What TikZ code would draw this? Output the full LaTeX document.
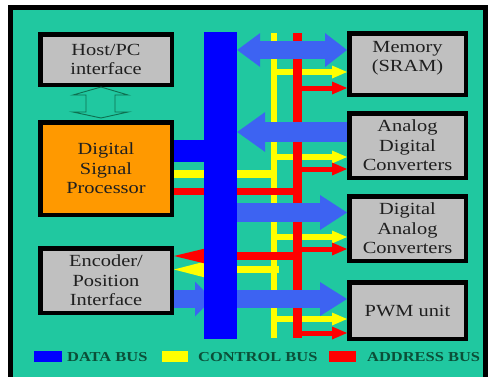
\documentclass[tikz,border=0pt]{standalone}
\usepackage{fontspec}
\setmainfont{Liberation Serif}[FakeStretch=1.2]
\usetikzlibrary{arrows.meta,calc}

\definecolor{panel}{HTML}{20C8A0}
\definecolor{boxgray}{HTML}{C0C0C0}
\definecolor{dspor}{HTML}{FF9900}
\definecolor{busblue}{HTML}{0000FF}
\definecolor{flowblue}{HTML}{3D63F2}
\definecolor{ctlyellow}{HTML}{FFFF00}
\definecolor{adrred}{HTML}{FF0000}
\definecolor{legendtxt}{HTML}{0B4F38}
\definecolor{hollow}{HTML}{0E7050}

\begin{document}
\begin{tikzpicture}[x=1pt,y=-1pt,
  unit/.style={draw=black, line width=4.5pt, fill=boxgray, inner sep=0pt,
    align=center, text=black!88, font=\fontsize{17}{19.5}\selectfont},
  leftunit/.style={unit, minimum width=131.5pt},
  rightunit/.style={unit, minimum width=116.5pt},
  ctl/.style={draw=ctlyellow, line width=6pt},
  adr/.style={draw=adrred, line width=5pt},
  tipsmall/.style={-{Triangle[length=15pt,width=13pt,line width=0pt]}},
  tiplong/.style={-{Triangle[length=31pt,width=15pt,line width=0pt]}},
  flow/.style={draw=flowblue, line width=18pt},
  keybox/.style={inner sep=0pt, minimum width=28pt, minimum height=11pt},
  keytext/.style={anchor=west, inner sep=0pt, text=legendtxt,
    font=\fontsize{13.7}{16}\selectfont\bfseries}
]
\useasboundingbox (0,0) rectangle (492,376);
\fill[white] (0,0) rectangle (492,376);
\begin{scope}
  \clip (0,0) rectangle (492,376);
  \draw[line width=5pt, fill=panel] (10,7.5) rectangle (485.5,395);
\end{scope}

% functional blocks
\node[leftunit, minimum height=50.5pt] (host) at (106,59.5) {Host/PC\\interface};
\node[leftunit, minimum height=92.5pt, fill=dspor] (dsp) at (106,168.5) {Digital\\Signal\\Processor};
\node[leftunit, minimum height=64.5pt] (enc) at (106,280.5) {Encoder/\\Position\\Interface};
\node[rightunit, minimum height=61.5pt] (mem) at (407.5,64) {};
\node[text=black!88, font=\fontsize{17}{19.5}\selectfont, align=center, inner sep=0pt] (memtxt) at (407.5,58) {Memory\\(SRAM)};
\node[rightunit, minimum height=64.5pt] (adc) at (407.5,145.5) {Analog\\Digital\\Converters};
\node[rightunit, minimum height=64.5pt] (dac) at (407.5,228.5) {Digital\\Analog\\Converters};
\node[rightunit, minimum height=56.5pt] (pwm) at (407.5,310.5) {PWM unit};

% hollow link between host interface and DSP
\draw[hollow, line width=0.9pt]
  (101,87) -- (128,95) -- (115,95) -- (115,112) -- (128,112) -- (101,118)
  -- (73,112) -- (86,112) -- (86,95) -- (73,95) -- cycle;

% bus rails
\coordinate (ytop) at (274,33);
\coordinate (ybot) at (274,338);
\coordinate (rtop) at (297.5,33);
\coordinate (rbot) at (297.5,338);

% control bus
\draw[ctl] (ytop) -- (ybot);
\draw[ctl, line width=8pt] (dsp.east |- 0,174) -- (ybot |- 0,174);
\draw[ctl, tipsmall] (ytop |- 0,72) -- (mem.west |- 0,72);
\draw[ctl, tipsmall] (ytop |- 0,157) -- (adc.west |- 0,157);
\draw[ctl, tipsmall] (ytop |- 0,237) -- (dac.west |- 0,237);
\draw[ctl, tipsmall] (ytop |- 0,319) -- (pwm.west |- 0,319);
\draw[ctl, line width=7pt, -{Triangle[length=31pt,width=16pt,line width=0pt]}]
  ($(ytop |- 0,269.5)+(5,0)$) -- (enc.east |- 0,269.5);

% address bus
\draw[adr, line width=9pt] (rtop) -- (rbot);
\draw[adr, line width=7pt] (dsp.east |- 0,191.5) -- ($(rbot |- 0,191.5)+(4.5,0)$);
\draw[adr, tipsmall] (rtop |- 0,88) -- (mem.west |- 0,88);
\draw[adr, tipsmall] (rtop |- 0,169) -- (adc.west |- 0,169);
\draw[adr, tipsmall] (rtop |- 0,249) -- (dac.west |- 0,249);
\draw[adr, tipsmall] (rtop |- 0,333) -- (pwm.west |- 0,333);
\draw[adr, line width=8pt, tiplong]
  ($(rtop |- 0,256)+(4.5,0)$) -- (enc.east |- 0,256);

% data bus
\draw[flow, -{Triangle[length=17pt,width=35pt,line width=0pt]}]
  (enc.east |- 0,299) -- (212,299);
\draw[busblue, line width=22pt] (dsp.east |- 0,151) -- (215,151);
\node[fill=busblue, inner sep=0pt, minimum width=33pt, minimum height=307pt] (databus) at (220.5,185.5) {};

\draw[flow, {Triangle[length=23pt,width=34pt,line width=0pt]}-{Triangle[length=22pt,width=34pt,line width=0pt]}]
  (databus.east |- 0,50) -- (mem.west |- 0,50);
\draw[flow, line width=20pt, -{Triangle[length=28pt,width=40pt,line width=0pt]}]
  (adc.west |- 0,132) -- (databus.east |- 0,132);
\draw[flow, line width=19pt, -{Triangle[length=27pt,width=35pt,line width=0pt]}]
  (databus.east |- 0,212.5) -- (dac.west |- 0,212.5);
\draw[flow, -{Triangle[length=27pt,width=34pt,line width=0pt]}]
  (databus.east |- 0,299) -- (pwm.west |- 0,299);

% legend
\node[keybox, fill=busblue] (kdata) at (48,356.5) {};
\node[keytext] (tdata) at (67,357) {DATA BUS};
\node[keybox, fill=ctlyellow, minimum width=26pt] (kctl) at (175,356.5) {};
\node[keytext] (tctl) at (198,357) {CONTROL BUS};
\node[keybox, fill=adrred, minimum width=27pt] (kadr) at (342.5,356.5) {};
\node[keytext] (tadr) at (367,357) {ADDRESS BUS};
\end{tikzpicture}
\end{document}
